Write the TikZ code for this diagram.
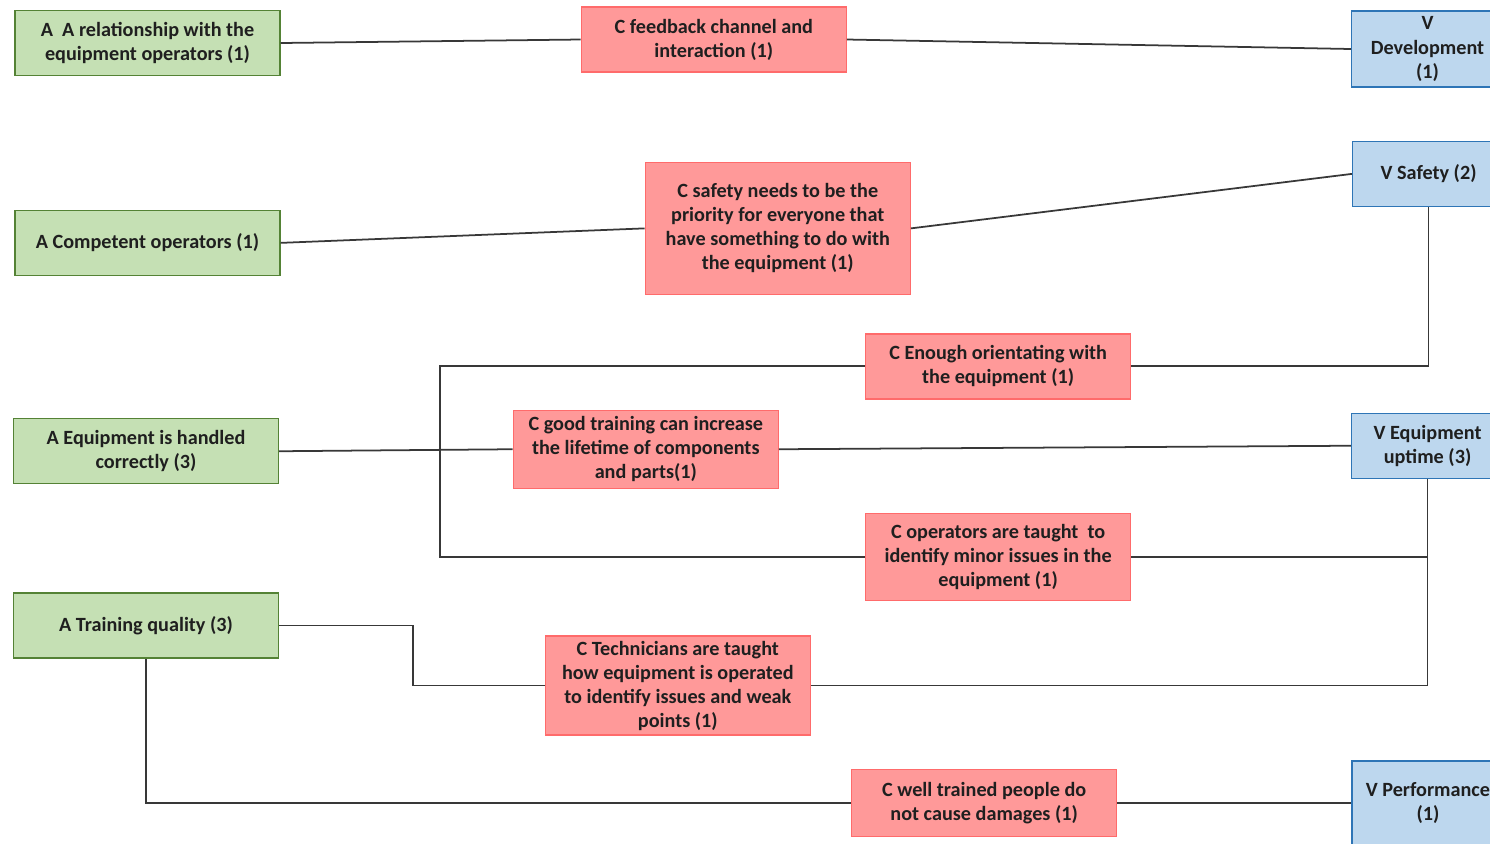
\documentclass[tikz,border=0pt]{standalone}
\usepackage{fontspec}
\setmainfont{Carlito}
\usepackage{xcolor}
\usepackage{tikz}
\usetikzlibrary{positioning}
\definecolor{antgreen}{HTML}{C5E0B4}
\definecolor{antgreenline}{HTML}{548235}
\definecolor{conred}{HTML}{FF9999}
\definecolor{conredline}{HTML}{FF6B6B}
\definecolor{valblue}{HTML}{BDD7EE}
\definecolor{valblueline}{HTML}{2E75B6}
\definecolor{linkgray}{HTML}{383838}
\tikzset{
  basebox/.style={draw, line width=0.8pt, align=center, inner sep=2pt, font=\fontsize{11.5}{13.7}\selectfont\bfseries, text=black!88},
  abox/.style={basebox, draw=antgreenline, fill=antgreen, minimum width=5.3cm, minimum height=1.3cm},
  cbox/.style={basebox, draw=conredline, fill=conred, minimum width=5.3cm, minimum height=1.3cm},
  vbox/.style={basebox, draw=valblueline, fill=valblue, minimum width=3.04cm, minimum height=1.3cm},
  link/.style={line width=1pt, draw=linkgray}
}
\begin{document}
\begin{tikzpicture}[x=0.02cm, y=-0.02cm]
  \useasboundingbox (0,0) rectangle (1490,843);
  \node[abox] (a1) at (147.5,43) {A \ A relationship with the\\equipment operators (1)};
  \node[abox, below=2.67cm of a1] (a2) {A Competent operators (1)};
  \node[abox, below=2.84cm of a2, xshift=-0.03cm] (a3) {A Equipment is handled\\correctly (3)};
  \node[abox, below=2.16cm of a3] (a4) {A Training quality (3)};

  \node[cbox, right=6cm of a1, yshift=0.07cm] (c1) {C feedback channel and\\interaction (1)};
  \node[cbox, minimum height=2.64cm, right=7.28cm of a2, yshift=0.29cm] (c2) {C safety needs to be the\\priority for everyone that\\have something to do with\\the equipment (1)};
  \node[cbox, minimum height=1.56cm, right=4.67cm of a3, yshift=0.04cm] (c4) {C good training can increase\\the lifetime of components\\and parts(1)};
  \node[cbox, above right=0.2cm and 1.72cm of c4] (c3) {C Enough orientating with\\the equipment (1)};
  \node[cbox, minimum height=1.74cm, below right=0.48cm and 1.72cm of c4] (c5) {C operators are taught \ to\\identify minor issues in the\\equipment (1)};
  \node[cbox, minimum height=1.98cm, right=5.31cm of a4, yshift=-1.2cm] (c6) {C Technicians are taught\\how equipment is operated\\to identify issues and weak\\points (1)};
  \node[cbox, minimum height=1.34cm, below right=0.66cm and 0.8cm of c6] (c7) {C well trained people do\\not cause damages (1)};

  \node[vbox, minimum height=1.52cm, right=10.08cm of c1, yshift=-0.19cm] (v1) {V\\Development\\(1)};
  \node[vbox, right=8.82cm of c2, yshift=1.09cm] (v2) {V Safety (2)};
  \node[vbox, right=11.44cm of c4, yshift=0.07cm] (v3) {V Equipment\\uptime (3)};
  \node[vbox, minimum height=1.68cm, right=4.68cm of c7] (v4) {V Performance\\(1)};

  \coordinate (hub) at (440,450);

  \draw[link] (a1.east) -- (c1.west);
  \draw[link] (c1.east) -- (v1.west);
  \draw[link] (a2.east) -- (c2.west);
  \draw[link] (c2.east) -- (v2.west);
  \draw[link] (v2.south) |- (c3.east);
  \draw[link] (c3.west) -| (hub) |- (c5.west);
  \draw[link] (a3.east) -- (c4.west);
  \draw[link] (c4.east) -- (v3.west);
  \draw[link] (v3.south) |- (c5.east);
  \draw[link] (v3.south) |- (c6.east);
  \draw[link] (a4.east) -- ++(134,0) |- (c6.west);
  \draw[link] (a4.south) |- (c7.west);
  \draw[link] (c7.east) -- (v4.west);
\end{tikzpicture}
\end{document}
